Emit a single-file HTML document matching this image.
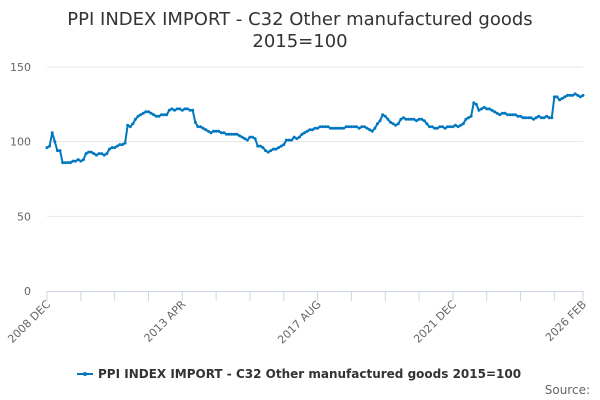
<!DOCTYPE html>
<html><head><meta charset="utf-8"><style>
body{margin:0;background:#fff;}
svg{display:block;font-family:"DejaVu Sans","Liberation Sans",sans-serif;}
</style></head><body>
<svg id="chart" width="600" height="400" viewBox="0 0 600 400">
<text x="300" y="25" text-anchor="middle" font-size="18" fill="#333">PPI INDEX IMPORT - C32 Other manufactured goods</text>
<text x="300" y="47" text-anchor="middle" font-size="18" fill="#333">2015=100</text>
<g id="grid"></g>
<g id="yaxis"></g>
<g id="xaxis"></g>
<g id="series"></g>
<g>
<line x1="77" y1="374" x2="93" y2="374" stroke="#0077c0" stroke-width="2"/>
<circle cx="85" cy="374" r="2" fill="#0077c0"/>
<text x="98" y="378" font-size="12" font-weight="bold" fill="#333">PPI INDEX IMPORT - C32 Other manufactured goods 2015=100</text>
</g>
<text x="590" y="394" text-anchor="end" font-size="12" fill="#666">Source:</text>
</svg>
<script>
const values=[96,97,106,100,94,94,86,86,86,86,87,87,88,87,88,92,93,93,92,91,92,92,91,92,95,96,96,97,98,98,99,111,110,112,115,117,118,119,120,120,119,118,117,117,118,118,118,121,122,121,122,122,121,122,122,121,121,113,110,110,109,108,107,106,107,107,107,106,106,105,105,105,105,105,104,103,102,101,103,103,102,97,97,96,94,93,94,95,95,96,97,98,101,101,101,103,102,103,105,106,107,108,108,109,109,110,110,110,110,109,109,109,109,109,109,110,110,110,110,110,109,110,110,109,108,107,109,112,114,118,117,115,113,112,111,112,115,116,115,115,115,115,114,115,115,114,112,110,110,109,109,110,110,109,110,110,110,111,110,111,112,115,116,117,126,125,121,122,123,122,122,121,120,119,118,119,119,118,118,118,118,117,117,116,116,116,116,115,116,117,116,116,117,116,116,130,130,128,129,130,131,131,131,132,131,130,131];
const yTicks=[0,50,100,150];
const xLabels=["2008 DEC","2013 APR","2017 AUG","2021 DEC","2026 FEB"];
const xLabelIdx=[0,52,104,156,206];
const NS="http://www.w3.org/2000/svg";
const x0=47,x1=583,yb=291,yt=67;
const xs=i=>x0+i*(x1-x0)/(values.length-1);
const ys=v=>yb-(v/150)*(yb-yt);
function mk(t,a,p){const e=document.createElementNS(NS,t);for(const k in a)e.setAttribute(k,a[k]);p.appendChild(e);return e;}
const grid=document.getElementById('grid'),ya=document.getElementById('yaxis'),xa=document.getElementById('xaxis'),se=document.getElementById('series');
yTicks.forEach(v=>{
 if(v>0){const g=mk('line',{x1:x0,x2:x1,y1:ys(v),y2:ys(v),stroke:'#e6e6e6','stroke-width':1},grid);
 
 }
 const t=mk('text',{x:31,y:ys(v)+4,'text-anchor':'end','font-size':11,fill:'#666'},ya);t.textContent=v;
 
 
});
mk('line',{x1:x0,x2:x1,y1:yb+0.5,y2:yb+0.5,stroke:'#ccd6eb','stroke-width':1},xa);
for(let i=0;i<values.length;i+=13){mk('line',{x1:xs(i),x2:xs(i),y1:yb,y2:yb+10,stroke:'#ccd6eb','stroke-width':1},xa);}
mk('line',{x1:x1,x2:x1,y1:yb,y2:yb+10,stroke:'#ccd6eb','stroke-width':1},xa);
xLabels.forEach((l,k)=>{const x=xs(xLabelIdx[k]);const t=mk('text',{x:x+4,y:yb+14,'text-anchor':'end','font-size':11,fill:'#666',transform:`rotate(-45 ${x+4} ${yb+14})`},xa);t.textContent=l;
 
 });
const p=mk('polyline',{points:values.map((v,i)=>xs(i)+','+ys(v)).join(' '),fill:'none',stroke:'#0077c0','stroke-width':2,'stroke-linejoin':'round'},se);


values.forEach((v,i)=>{const c=mk('circle',{cx:xs(i),cy:ys(v),r:1.5,fill:'#0077c0'},se);
 
 });
</script>
</body></html>
